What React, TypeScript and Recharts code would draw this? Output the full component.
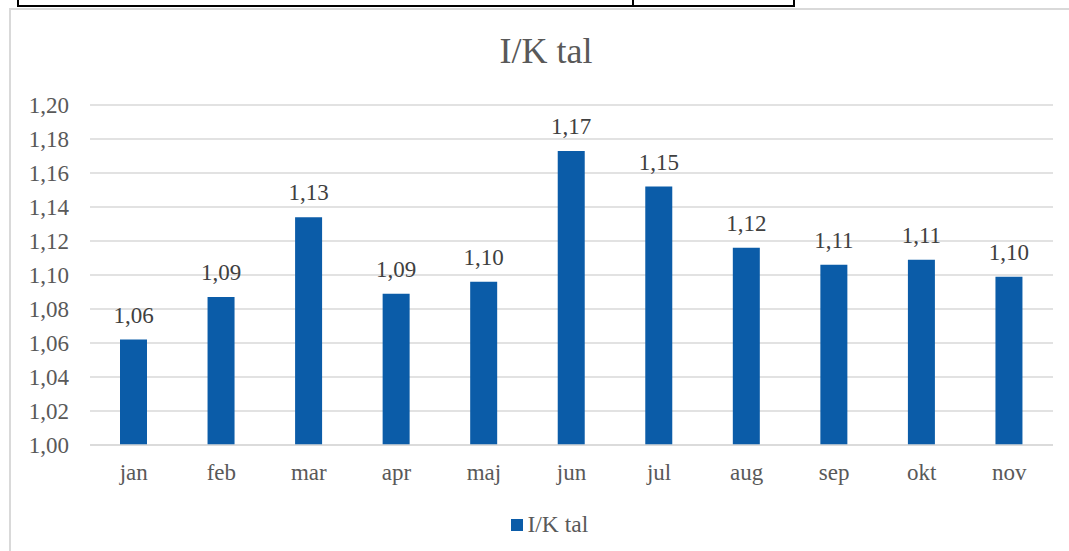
import React from 'react';
import { BarChart, Bar, XAxis, YAxis, CartesianGrid, Legend, LabelList } from 'recharts';

const chartTitle = 'I/K tal';
const seriesName = 'I/K tal';
const months = ['jan', 'feb', 'mar', 'apr', 'maj', 'jun', 'jul', 'aug', 'sep', 'okt', 'nov'];
const ikValues = [1.062, 1.087, 1.134, 1.089, 1.096, 1.173, 1.152, 1.116, 1.106, 1.109, 1.099];
const yTicks = [1.0, 1.02, 1.04, 1.06, 1.08, 1.1, 1.12, 1.14, 1.16, 1.18, 1.2];

const data = months.map((m, i) => ({ month: m, value: ikValues[i] }));
const fmt = (v: any) => Number(v).toFixed(2).replace('.', ',');

const FONT = "'Liberation Serif', 'Times New Roman', Tinos, serif";
const BAR = '#0b5ca8';
const GRID = '#d9d9d9';
const FS = 23;

const LegendContent = () => (
  <div style={{ position: 'relative', height: 24, width: 1069 }}>
    <span
      style={{ position: 'absolute', left: 511, top: 7, width: 11.5, height: 11.5, background: BAR }}
    />
    <span
      style={{
        position: 'absolute',
        left: 527.5,
        top: 1,
        fontFamily: FONT,
        fontSize: 23.5,
        lineHeight: '23px',
        color: '#595959',
        whiteSpace: 'nowrap',
      }}
    >
      {seriesName}
    </span>
  </div>
);

const line = (left: number, top: number, width: number, height: number, color: string) => (
  <div style={{ position: 'absolute', left, top, width, height, background: color }} />
);

export default function App() {
  return (
    <div
      style={{
        position: 'absolute',
        left: 0,
        top: 0,
        width: 1069,
        height: 551,
        overflow: 'hidden',
        background: '#fff',
      }}
    >
      {/* table lines above the chart */}
      {line(17, 0, 2, 7, '#000')}
      {line(17, 5, 778, 2, '#000')}
      {line(632, 0, 2, 7, '#000')}
      {line(793, 0, 2, 7, '#000')}
      {/* chart frame (extends beyond the picture) */}
      {line(795, 8, 274, 1.5, GRID)}
      {line(9, 8, 786, 1.5, GRID)}
      {line(9, 8, 1.5, 543, GRID)}
      <div
        style={{
          position: 'absolute',
          left: 0,
          width: 1092,
          top: 33,
          textAlign: 'center',
          fontFamily: FONT,
          fontSize: 36,
          lineHeight: '36px',
          color: '#595959',
        }}
      >
        {chartTitle}
      </div>
      <div style={{ position: 'absolute', left: 0, top: 0 }}>
        <BarChart
          width={1069}
          height={551}
          data={data}
          margin={{ top: 105, right: 16, left: 0, bottom: 12 }}
        >
          <CartesianGrid vertical={false} stroke={GRID} strokeWidth={1.5} />
          <XAxis
            dataKey="month"
            axisLine={{ stroke: GRID, strokeWidth: 1.5 }}
            tickLine={false}
            tick={{ fill: '#595959', fontSize: FS, fontFamily: FONT }}
            tickMargin={13}
            height={70}
            interval={0}
          />
          <YAxis
            domain={[1, 1.2]}
            ticks={yTicks}
            tickFormatter={fmt}
            axisLine={false}
            tickLine={false}
            tick={{ fill: '#595959', fontSize: FS, fontFamily: FONT }}
            width={90}
            tickMargin={15}
            interval={0}
          />
          <Legend
            verticalAlign="bottom"
            content={LegendContent}
            wrapperStyle={{ left: 0, top: 512, bottom: 'auto', width: 1069 }}
          />
          <Bar dataKey="value" name={seriesName} fill={BAR} barSize={27} isAnimationActive={false}>
            <LabelList
              dataKey="value"
              position="top"
              offset={17}
              formatter={fmt}
              fill="#404040"
              fontSize={FS}
              fontFamily={FONT}
            />
          </Bar>
        </BarChart>
      </div>
    </div>
  );
}
